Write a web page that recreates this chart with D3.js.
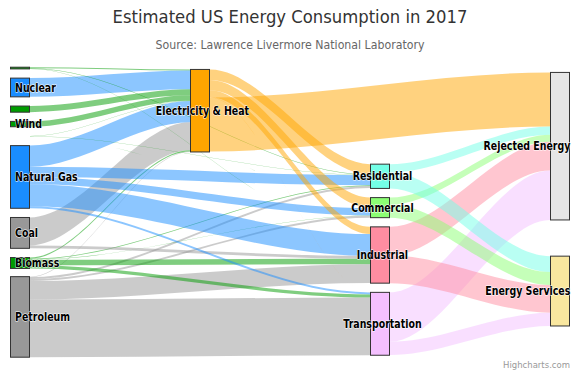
<!DOCTYPE html>
<html>
<head>
<meta charset="utf-8">
<script src="https://cdn.jsdelivr.net/npm/d3@7"></script>
<style>
html, body { margin: 0; padding: 0; background: #ffffff; }
svg { display: block; }
</style>
</head>
<body>
<svg id="chart" width="580" height="373"></svg>
<script>
// ---------------- data ----------------
const chartTitle = "Estimated US Energy Consumption in 2017";
const chartSubtitle = "Source: Lawrence Livermore National Laboratory";
const creditsText = "Highcharts.com";

const nodeIds = ["Solar", "Nuclear", "Hydro", "Wind", "Geothermal", "Natural Gas", "Coal", "Biomass", "Petroleum",
  "Electricity & Heat",
  "Residential", "Commercial", "Industrial", "Transportation",
  "Rejected Energy", "Energy Services"];
const nodeColumns = [0, 0, 0, 0, 0, 0, 0, 0, 0, 1, 2, 2, 2, 2, 3, 3];
const nodeColors = ["#009c00", "#1a8dff", "#009c00", "#009c00", "#009c00", "#1a8dff", "#989898", "#009c00", "#989898",
  "#ffa500",
  "#74ffe7", "#8cff74", "#ff8da1", "#f4c0ff",
  "#e6e6e6", "#f9e79f"];

const linkFrom = [
  "Solar", "Nuclear", "Hydro", "Wind", "Geothermal", "Natural Gas", "Coal", "Biomass", "Petroleum",
  "Electricity & Heat", "Solar", "Geothermal", "Natural Gas", "Biomass", "Petroleum",
  "Electricity & Heat", "Solar", "Geothermal", "Natural Gas", "Coal", "Biomass", "Petroleum",
  "Electricity & Heat", "Solar", "Hydro", "Natural Gas", "Coal", "Biomass", "Petroleum",
  "Electricity & Heat", "Natural Gas", "Biomass", "Petroleum",
  "Electricity & Heat", "Residential", "Commercial", "Industrial", "Transportation",
  "Residential", "Commercial", "Industrial", "Transportation"];
const linkTo = [
  "Electricity & Heat", "Electricity & Heat", "Electricity & Heat", "Electricity & Heat", "Electricity & Heat",
  "Electricity & Heat", "Electricity & Heat", "Electricity & Heat", "Electricity & Heat",
  "Residential", "Residential", "Residential", "Residential", "Residential", "Residential",
  "Commercial", "Commercial", "Commercial", "Commercial", "Commercial", "Commercial", "Commercial",
  "Industrial", "Industrial", "Industrial", "Industrial", "Industrial", "Industrial", "Industrial",
  "Transportation", "Transportation", "Transportation", "Transportation",
  "Rejected Energy", "Rejected Energy", "Rejected Energy", "Rejected Energy", "Rejected Energy",
  "Energy Services", "Energy Services", "Energy Services", "Energy Services"];
const linkWeight = [
  0.48, 8.42, 2.75, 2.41, 0.15, 9.54, 12.6, 0.52, 0.21,
  4.7, 0.19, 0.04, 4.58, 0.33, 0.88,
  4.6, 0.08, 0.02, 3.29, 0.02, 0.16, 0.83,
  3.23, 0.02, 0.01, 9.84, 1.24, 2.48, 8.38,
  0.03, 0.91, 1.42, 25.9,
  24.3, 3.75, 3.15, 12.9, 22.2,
  7.15, 5.86, 12.4, 5.97];

// ---------------- layout settings ----------------
const W = 580, H = 373;
const plot = { left: 10, top: 67.2, width: 560, height: 291 };
const nodeWidth = 20;
const nodePadding = 9.2;
const curveFactor = 0.33;
const nodeOffset = {
  "Electricity & Heat": -102,
  "Residential": 47, "Commercial": 47, "Industrial": 47, "Transportation": 47,
  "Rejected Energy": -27,
  "Petroleum": -1
};
const fontFamily = "'DejaVu Sans', Verdana, sans-serif";

// ---------------- build graph ----------------
const nodes = nodeIds.map((id, i) => ({
  id, column: nodeColumns[i], color: nodeColors[i], linksFrom: [], linksTo: []
}));
const byId = new Map(nodes.map(n => [n.id, n]));
const links = linkFrom.map((f, i) => ({ source: byId.get(f), target: byId.get(linkTo[i]), weight: linkWeight[i] }));
links.forEach(l => { l.source.linksFrom.push(l); l.target.linksTo.push(l); });
nodes.forEach(n => {
  n.sum = Math.max(d3.sum(n.linksFrom, l => l.weight), d3.sum(n.linksTo, l => l.weight));
});

const columns = d3.groups(nodes, n => n.column).sort((a, b) => a[0] - b[0]).map(g => g[1]);
const factor = d3.min(columns, col => (plot.height - (col.length - 1) * nodePadding) / d3.sum(col, n => n.sum));
const hScale = d3.scaleLinear().domain([0, 1]).range([0, factor]);
const xScale = d3.scaleLinear().domain([0, columns.length - 1]).range([plot.left, plot.left + plot.width - nodeWidth]);

columns.forEach(col => {
  const total = d3.sum(col, n => hScale(n.sum)) + (col.length - 1) * nodePadding;
  let y = plot.top + (plot.height - total) / 2;
  col.forEach(n => {
    n.h = hScale(n.sum);
    n.x = xScale(n.column);
    n.y = y + (nodeOffset[n.id] || 0);
    y += n.h + nodePadding;
  });
});
nodes.forEach(n => {
  let o = 0;
  n.linksFrom.forEach(l => { l.y0 = n.y + o; l.width = hScale(l.weight); o += l.width; });
  o = 0;
  n.linksTo.forEach(l => { l.y1 = n.y + o; o += hScale(l.weight); });
});

function linkPath(l) {
  const x0 = l.source.x + nodeWidth, x1 = l.target.x;
  const c = (x1 - x0) * curveFactor;
  const y0 = l.y0, y1 = l.y1, w = l.width;
  const p = d3.path();
  p.moveTo(x0, y0);
  p.bezierCurveTo(x0 + c, y0, x1 - c, y1, x1, y1);
  p.lineTo(x1, y1 + w);
  p.bezierCurveTo(x1 - c, y1 + w, x0 + c, y0 + w, x0, y0 + w);
  p.closePath();
  return p.toString();
}

// ---------------- draw ----------------
const svg = d3.select("#chart");
svg.append("rect").attr("width", W).attr("height", H).attr("fill", "#ffffff");

svg.append("text")
  .attr("transform", "translate(290,22.7) scale(0.94,1)")
  .attr("text-anchor", "middle")
  .attr("font-family", fontFamily).attr("font-size", 17.5).attr("fill", "#333333")
  .text(chartTitle);
svg.append("text")
  .attr("transform", "translate(290,49.3) scale(0.916,1)")
  .attr("text-anchor", "middle")
  .attr("font-family", fontFamily).attr("font-size", 12).attr("fill", "#666666")
  .text(chartSubtitle);

svg.append("g").attr("class", "links")
  .selectAll("path").data(links).join("path")
  .attr("d", linkPath)
  .attr("fill", d => d.source.color)
  .attr("fill-opacity", 0.5);

svg.append("g").attr("class", "nodes")
  .selectAll("rect").data(nodes.filter(n => n.h >= 0.5)).join("rect")
  .attr("x", d => d.x + 0.5)
  .attr("y", d => d.y)
  .attr("width", nodeWidth - 1)
  .attr("height", d => d.h)
  .attr("fill", d => d.color)
  .attr("stroke", "#333333")
  .attr("stroke-width", 1);

// labels
const labelScale = 0.82;
const labelG = svg.append("g").attr("class", "labels");
const labelList = nodes.map(n => {
  const t = labelG.append("text")
    .attr("font-family", fontFamily).attr("font-size", 11.5).attr("font-weight", "bold")
    .attr("fill", "#000000")
    .attr("stroke", "#ffffff").attr("stroke-width", 1).attr("stroke-linejoin", "round")
    .attr("paint-order", "stroke")
    .text(n.id);
  const w = t.node().getComputedTextLength() * labelScale;
  const cx = n.x + nodeWidth / 2 + 2.5;
  let left = cx - w / 2;
  if (left < plot.left + 5) left = plot.left + 5;
  if (left + w > plot.left + plot.width + 0.5) left = plot.left + plot.width + 0.5 - w;
  const mid = n.y + n.h / 2;
  t.attr("transform", `translate(${left},${mid + 4.2}) scale(${labelScale},1)`);
  return { node: n, text: t, x0: left - 5, x1: left + w + 5, y0: mid - 12, y1: mid + 12, visible: true };
});
// hide overlapping labels, larger nodes win
const ordered = labelList.slice().sort((a, b) => b.node.h - a.node.h);
const shown = [];
ordered.forEach(lb => {
  const hit = shown.some(s => lb.x0 < s.x1 && lb.x1 > s.x0 && lb.y0 < s.y1 && lb.y1 > s.y0);
  if (hit) { lb.visible = false; lb.text.remove(); }
  else shown.push(lb);
});

svg.append("text")
  .attr("transform", "translate(570,367.5) scale(0.915,1)")
  .attr("text-anchor", "end")
  .attr("font-family", fontFamily).attr("font-size", 9.3).attr("fill", "#999999")
  .text(creditsText);
</script>
</body>
</html>
